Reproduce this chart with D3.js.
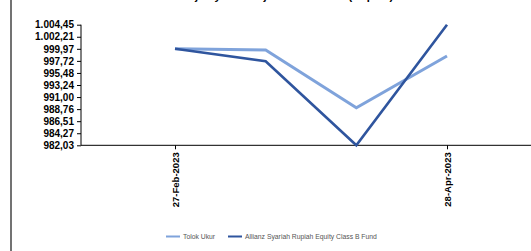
<!DOCTYPE html>
<html>
<head>
<meta charset="utf-8">
<script src="https://cdn.jsdelivr.net/npm/d3@7"></script>
<style>
  body { margin: 0; background: #fff; }
  svg { display: block; }
  .ytick text { font: bold 10px "Liberation Sans", Arial, sans-serif; fill: #000; }
  .xtick text { font: bold 9.5px "Liberation Sans", Arial, sans-serif; fill: #000; }
  .legend text { font: 6.8px "Liberation Sans", Arial, sans-serif; fill: #555; }
</style>
</head>
<body>
<div id="chart"></div>
<script>
// data
var dates = ["2023-02-27", "2023-03-19", "2023-04-08", "2023-04-28"];
var tolokUkur = [999.97, 999.73, 989.02, 998.63];
var fundValues = [999.97, 997.65, 982.03, 1004.45];
var yTickLabels = ["982,03", "984,27", "986,51", "988,76", "991,00", "993,24",
                   "995,48", "997,72", "999,97", "1.002,21", "1.004,45"];
var xTickDates = ["2023-02-27", "2023-04-28"];
var xTickLabels = ["27-Feb-2023", "28-Apr-2023"];
var seriesNames = ["Tolok Ukur", "Allianz Syariah Rupiah Equity Class B Fund"];
var seriesColors = ["#7fa3db", "#2f559e"];

var width = 531, height = 251;
var parse = d3.timeParse("%Y-%m-%d");

var svg = d3.select("#chart").append("svg")
    .attr("width", width)
    .attr("height", height);

// frame line on the left
svg.append("line")
    .attr("x1", 11).attr("x2", 11)
    .attr("y1", 0).attr("y2", height)
    .attr("stroke", "#444").attr("stroke-width", 1.5);

// title, mostly cut off above the picture (only descenders show)
svg.append("text")
    .attr("x", 280).attr("y", -0.5)
    .attr("text-anchor", "middle")
    .style("font", "bold 11px 'Liberation Sans', Arial, sans-serif")
    .text("Kinerja Syariah Sejak Diluncurkan (Rupiah)");

var plot = { left: 81, right: 531, top: 24.7, bottom: 145.3 };

var yMin = d3.min(fundValues.concat(tolokUkur)),
    yMax = d3.max(fundValues.concat(tolokUkur));
var y = d3.scaleLinear().domain([yMin, yMax]).range([plot.bottom, plot.top]);

// first and last points at the two labelled ticks
var x = d3.scaleTime()
    .domain([parse(dates[0]), parse(dates[dates.length - 1])])
    .range([175, 447]);

// y axis
var yTickVals = d3.range(yTickLabels.length).map(function(i) {
  return yMin + i * (yMax - yMin) / (yTickLabels.length - 1);
});
var yAxis = d3.axisLeft(y)
    .tickValues(yTickVals)
    .tickSize(4)
    .tickPadding(3)
    .tickFormat(function(d, i) { return yTickLabels[i]; });
var yg = svg.append("g")
    .attr("class", "ytick")
    .attr("transform", "translate(" + plot.left + ",0)")
    .call(yAxis);
yg.select(".domain").attr("stroke", "#000").attr("d", "M0," + plot.top + "V" + plot.bottom);
yg.selectAll(".tick line").attr("stroke", "#000");

// x axis
var xAxis = d3.axisBottom(x)
    .tickValues(xTickDates.map(parse))
    .tickSize(4)
    .tickFormat(function(d, i) { return xTickLabels[i]; });
var xg = svg.append("g")
    .attr("class", "xtick")
    .attr("transform", "translate(0," + plot.bottom + ")")
    .call(xAxis);
xg.select(".domain").attr("stroke", "#000").attr("d", "M" + plot.left + ",0H" + plot.right);
xg.selectAll(".tick line").attr("stroke", "#000");
xg.selectAll(".tick text")
    .attr("transform", "rotate(-90)")
    .attr("text-anchor", "end")
    .attr("x", -7)
    .attr("y", 0)
    .attr("dy", "0.35em");

// lines
var line = d3.line()
    .x(function(d, i) { return x(parse(dates[i])); })
    .y(function(d) { return y(d); });

[tolokUkur, fundValues].forEach(function(vals, k) {
  svg.append("path")
      .datum(vals)
      .attr("fill", "none")
      .attr("stroke", seriesColors[k])
      .attr("stroke-width", k === 0 ? 3 : 2.6)
      .attr("stroke-linejoin", "miter")
      .attr("d", line);
});

// legend
var legendX = [166, 228];
var lg = svg.append("g").attr("class", "legend");
seriesNames.forEach(function(name, k) {
  lg.append("line")
      .attr("x1", legendX[k]).attr("x2", legendX[k] + 14)
      .attr("y1", 236.5).attr("y2", 236.5)
      .attr("stroke", seriesColors[k]).attr("stroke-width", 2);
  lg.append("text")
      .attr("x", legendX[k] + 17).attr("y", 239)
      .text(name);
});
</script>
</body>
</html>
